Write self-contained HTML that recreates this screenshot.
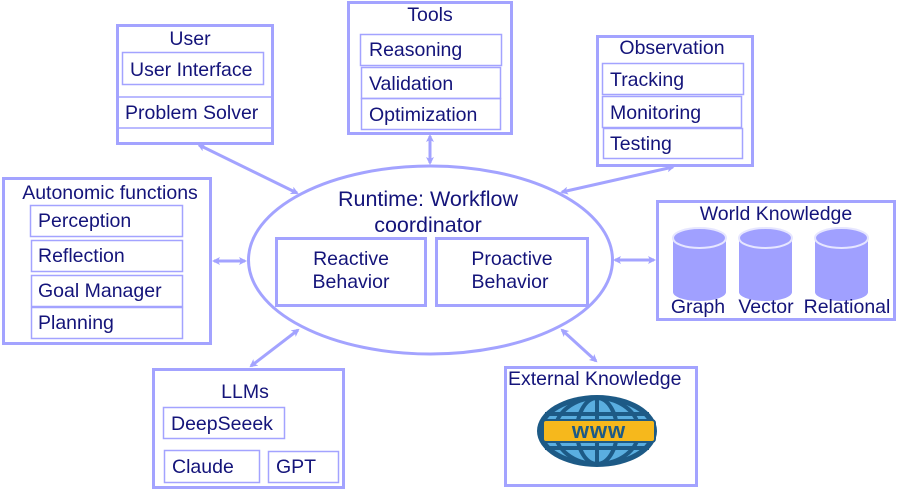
<!DOCTYPE html>
<html><head><meta charset="utf-8"><style>
html,body{margin:0;padding:0;background:#fff;}
svg{display:block;}
text{font-family:"Liberation Sans",Arial,sans-serif;fill:#14147a;font-size:19.5px;}
</style></head><body>
<svg width="897" height="489" viewBox="0 0 897 489" xmlns="http://www.w3.org/2000/svg">
<defs>
<marker id="ah" markerWidth="8" markerHeight="8" refX="6" refY="4" orient="auto-start-reverse" markerUnits="userSpaceOnUse">
<path d="M0,0 L8,4 L0,8 L2,4 Z" fill="#a3a3ff"/>
</marker>
</defs>
<g fill="none" stroke="#a3a3ff">
<rect x="117.5" y="25.5" width="155" height="118" stroke-width="3"/>
<rect x="122.5" y="52.5" width="141" height="32" stroke-width="1.5"/>
<line x1="117" y1="97" x2="271" y2="97" stroke-width="1.5"/>
<line x1="117" y1="128" x2="271" y2="128" stroke-width="1.5"/>
<rect x="348.5" y="2.5" width="163" height="131" stroke-width="3"/>
<rect x="360.5" y="34.5" width="141" height="31" stroke-width="1.5"/>
<rect x="361.5" y="67.5" width="139" height="31" stroke-width="1.5"/>
<rect x="361.5" y="98.5" width="139" height="31" stroke-width="1.5"/>
<rect x="597.5" y="36.5" width="155" height="129" stroke-width="3"/>
<rect x="602.5" y="63.5" width="141" height="31" stroke-width="1.5"/>
<rect x="602.5" y="96.5" width="139" height="31" stroke-width="1.5"/>
<rect x="603.5" y="128.5" width="139" height="30" stroke-width="1.5"/>
<rect x="3.5" y="178.5" width="207" height="165" stroke-width="3"/>
<rect x="30.5" y="205.5" width="152" height="31" stroke-width="1.5"/>
<rect x="31.5" y="240.5" width="151" height="31" stroke-width="1.5"/>
<rect x="31.5" y="275.5" width="151" height="31" stroke-width="1.5"/>
<rect x="31.5" y="307.5" width="151" height="31" stroke-width="1.5"/>
<ellipse cx="430.5" cy="260" rx="182" ry="94" stroke-width="3"/>
<rect x="276.5" y="238.5" width="149" height="67" stroke-width="3"/>
<rect x="436.5" y="238.5" width="151" height="67" stroke-width="3"/>
<rect x="657.5" y="201.5" width="237" height="118" stroke-width="3"/>
<rect x="505.5" y="367.5" width="191" height="118" stroke-width="3"/>
<rect x="153.5" y="369.5" width="190" height="118" stroke-width="3"/>
<rect x="163.5" y="407.5" width="121" height="31" stroke-width="1.5"/>
<rect x="164.5" y="450.5" width="95" height="32" stroke-width="1.5"/>
<rect x="268.5" y="451.5" width="70" height="31" stroke-width="1.5"/>
<g stroke-width="3" marker-start="url(#ah)" marker-end="url(#ah)">
<line x1="199" y1="145" x2="297" y2="193"/>
<line x1="430" y1="136" x2="430" y2="163"/>
<line x1="673" y1="167" x2="562" y2="192"/>
<line x1="214" y1="261" x2="245" y2="261"/>
<line x1="615" y1="260" x2="654" y2="260"/>
<line x1="251" y1="366" x2="298" y2="330"/>
<line x1="562" y1="330" x2="596" y2="361"/>
</g>
</g>
<g fill="#a0a0ff">
<g transform="translate(673,228)">
<rect x="0" y="10" width="53" height="54"/>
<ellipse cx="26.5" cy="64" rx="26.5" ry="9"/>
<ellipse cx="26.5" cy="10" rx="26.5" ry="10" stroke="#e6e6ff" stroke-width="2"/>
</g>
<g transform="translate(739,228)">
<rect x="0" y="10" width="53" height="54"/>
<ellipse cx="26.5" cy="64" rx="26.5" ry="9"/>
<ellipse cx="26.5" cy="10" rx="26.5" ry="10" stroke="#e6e6ff" stroke-width="2"/>
</g>
<g transform="translate(815,228)">
<rect x="0" y="10" width="53" height="54"/>
<ellipse cx="26.5" cy="64" rx="26.5" ry="9"/>
<ellipse cx="26.5" cy="10" rx="26.5" ry="10" stroke="#e6e6ff" stroke-width="2"/>
</g>
</g>
<g>
<ellipse cx="597" cy="431" rx="60" ry="36" fill="#1d5a86"/>
<ellipse cx="597" cy="431" rx="54" ry="31" fill="#5aaee0"/>
<g stroke="#1d5a86" stroke-width="4" fill="none">
<ellipse cx="597" cy="431" rx="20" ry="33"/>
<line x1="597" y1="398" x2="597" y2="464"/>
<line x1="545" y1="414" x2="649" y2="414"/>
<line x1="545" y1="448" x2="649" y2="448"/>
<ellipse cx="597" cy="431" rx="42" ry="33"/>
</g>
<rect x="543" y="420" width="112" height="22" rx="3" fill="#f6b81c" stroke="#1d5a86" stroke-width="2"/>
<text x="599" y="438" text-anchor="middle" style="font-size:22px;font-weight:bold;fill:#1d5a86;letter-spacing:1px">www</text>
</g>
<text x="190" y="45" text-anchor="middle">User</text>
<text x="130" y="76">User Interface</text>
<text x="125" y="119">Problem Solver</text>
<text x="430" y="21" text-anchor="middle">Tools</text>
<text x="369" y="56">Reasoning</text>
<text x="369" y="90">Validation</text>
<text x="369" y="121">Optimization</text>
<text x="672" y="54" text-anchor="middle">Observation</text>
<text x="610" y="86">Tracking</text>
<text x="610" y="119">Monitoring</text>
<text x="610" y="150">Testing</text>
<text x="110" y="199" text-anchor="middle">Autonomic functions</text>
<text x="38" y="227">Perception</text>
<text x="38" y="262">Reflection</text>
<text x="38" y="297">Goal Manager</text>
<text x="38" y="329">Planning</text>
<text x="428" y="206" text-anchor="middle" style="font-size:21.5px">Runtime: Workflow</text>
<text x="428" y="232" text-anchor="middle" style="font-size:21.5px">coordinator</text>
<text x="351" y="265" text-anchor="middle">Reactive</text>
<text x="351" y="288" text-anchor="middle">Behavior</text>
<text x="512" y="265" text-anchor="middle">Proactive</text>
<text x="510" y="288" text-anchor="middle">Behavior</text>
<text x="776" y="220" text-anchor="middle">World Knowledge</text>
<text x="698" y="313" text-anchor="middle">Graph</text>
<text x="766" y="313" text-anchor="middle">Vector</text>
<text x="847" y="313" text-anchor="middle">Relational</text>
<text x="508" y="385">External Knowledge</text>
<text x="245" y="398" text-anchor="middle">LLMs</text>
<text x="171" y="430">DeepSeeek</text>
<text x="172" y="473">Claude</text>
<text x="276" y="473">GPT</text>
</svg>
</body></html>
